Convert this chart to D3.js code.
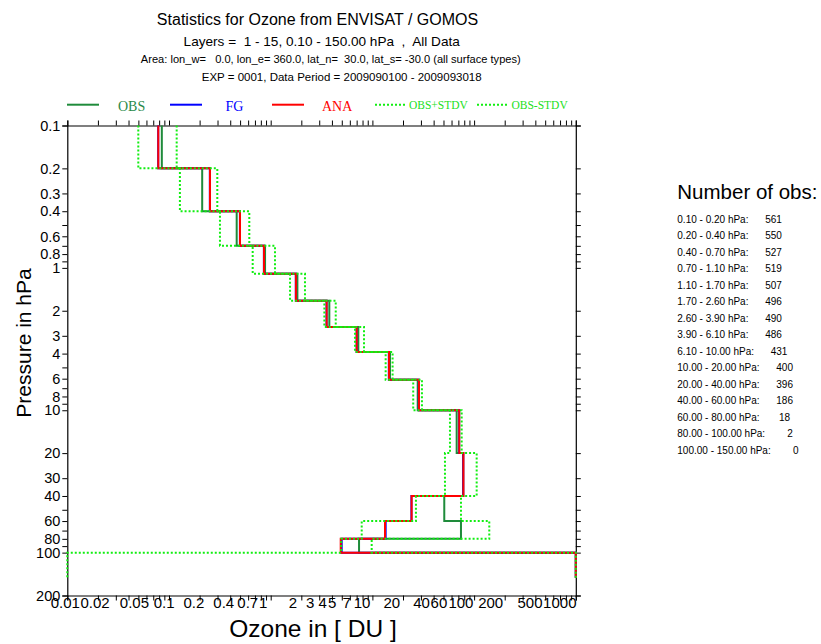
<!DOCTYPE html>
<html>
<head>
<meta charset="utf-8">
<script src="https://cdn.jsdelivr.net/npm/d3@7"></script>
<style>
  body { margin: 0; background: #fff; }
  svg { display: block; }
  text { font-family: "Liberation Sans", Arial, Helvetica, sans-serif; fill: #000; }
</style>
</head>
<body>
<svg id="chart" width="821" height="644"></svg>
<script>
// Layer boundaries (hPa), top of atmosphere first
const layerBounds = [0.1, 0.2, 0.4, 0.7, 1.1, 1.7, 2.6, 3.9, 6.1, 10, 20, 40, 60, 80, 100, 150];

// Mean ozone per layer [DU]; the last layer has no observations (missing flag)
const obsValues    = [0.085, 0.212, 0.463, 0.88, 1.83, 3.77, 7.27, 14.9, 27.9, 67.4, 78.0, 50.9, 74.3, 7.39, 1e20];
const fgValues     = [0.0783, 0.252, 0.498, 0.857, 1.765, 3.54, 7.0, 14.5, 28.6, 71.3, 78.2, 24.2, 13.5, 4.99, 1e20];
const anaValues    = [0.0785, 0.253, 0.499, 0.859, 1.77, 3.55, 7.01, 14.56, 28.7, 71.5, 78.5, 24.3, 13.3, 4.88, 1e20];
const obsPlusStdv  = [0.119, 0.2985, 0.616, 1.102, 2.173, 4.36, 8.27, 15.8, 30.7, 75.5, 106, 74.3, 141, 9.84, 2e20];
const obsMinusStdv = [0.0499, 0.128, 0.317, 0.665, 1.549, 3.37, 6.74, 13.5, 25.2, 57.9, 51.7, 26.8, 7.85, 4.94, 0];

// Number of observations per layer
const obsCounts = [561, 550, 527, 519, 507, 496, 490, 486, 431, 400, 396, 186, 18, 2, 0];

// Labelled tick values
const xTickLabels = [0.01, 0.02, 0.05, 0.1, 0.2, 0.4, 0.7, 1, 2, 3, 4, 5, 7, 10, 20, 40, 60, 100, 200, 500, 1000];
const yTickLabels = [0.1, 0.2, 0.3, 0.4, 0.6, 0.8, 1, 2, 3, 4, 6, 8, 10, 20, 30, 40, 60, 80, 100, 200];

const titleLines = [
  "Statistics for Ozone from ENVISAT / GOMOS",
  "Layers =  1 - 15, 0.10 - 150.00 hPa  ,  All Data",
  "Area: lon_w=   0.0, lon_e= 360.0, lat_n=  30.0, lat_s= -30.0 (all surface types)",
  "EXP = 0001, Data Period = 2009090100 - 2009093018"
];

const svg = d3.select("#chart");
const plot = { left: 67.3, right: 575.8, top: 125.5, bottom: 595.5 };

const x = d3.scaleLog().domain([0.01, 1000]).range([plot.left, plot.right]).clamp(true);
const y = d3.scaleLog().domain([0.1, 200]).range([plot.top, plot.bottom]).clamp(true);
// tick labels sit on a slightly narrower log scale than the ticks themselves
const xLab = d3.scaleLog().domain([0.01, 1000]).range([65.3, 559.8]);

// ---- titles ----
const titleStyle = [
  { size: 16, cx: 317.5, y: 24.5 },
  { size: 13.6, cx: 321.7, y: 46 },
  { size: 11.1, cx: 330.8, y: 63 },
  { size: 11.5, cx: 341.7, y: 80.5 }
];
svg.append("g").selectAll("text").data(titleLines).join("text")
  .attr("x", (d, i) => titleStyle[i].cx)
  .attr("y", (d, i) => titleStyle[i].y)
  .attr("text-anchor", "middle")
  .style("white-space", "pre")
  .attr("font-size", (d, i) => titleStyle[i].size)
  .text(d => d);

// ---- axes (all ticks point outward) ----
const tickLen = 5;
const xTicks = x.ticks();
const yTicks = y.ticks();

const axisG = svg.append("g").attr("class", "axes");
axisG.append("g").attr("transform", `translate(0,${plot.bottom})`)
  .call(d3.axisBottom(x).tickValues(xTicks).tickSize(tickLen).tickFormat(""));
axisG.append("g").attr("transform", `translate(0,${plot.top})`)
  .call(d3.axisTop(x).tickValues(xTicks).tickSize(tickLen).tickFormat(""));
axisG.append("g").attr("transform", `translate(${plot.left},0)`)
  .call(d3.axisLeft(y).tickValues(yTicks).tickSize(tickLen).tickFormat(""));
axisG.append("g").attr("transform", `translate(${plot.right},0)`)
  .call(d3.axisRight(y).tickValues(yTicks).tickSize(tickLen).tickFormat(""));
axisG.selectAll(".domain").attr("stroke", "#000").attr("stroke-width", 1.2);
axisG.selectAll(".tick line").attr("stroke", "#000").attr("stroke-width", 1);

// tick labels
svg.append("g").selectAll("text").data(xTickLabels).join("text")
  .attr("x", d => xLab(d))
  .attr("y", 607.5)
  .attr("text-anchor", "middle")
  .attr("font-size", 15)
  .text(d => String(d));

svg.append("g").selectAll("text").data(yTickLabels).join("text")
  .attr("x", plot.left - 7)
  .attr("y", d => y(d))
  .attr("dy", "0.36em")
  .attr("text-anchor", "end")
  .attr("font-size", 14.5)
  .text(d => String(d));

// axis titles
svg.append("text")
  .attr("transform", "translate(31,343) rotate(-90)")
  .attr("text-anchor", "middle")
  .attr("font-size", 21)
  .text("Pressure in hPa");
svg.append("text")
  .attr("x", 313).attr("y", 637)
  .attr("text-anchor", "middle")
  .attr("font-size", 24.5)
  .text("Ozone in [ DU ]");

// ---- step profiles ----
const stepPoints = vals => vals.flatMap((v, i) => [[v, layerBounds[i]], [v, layerBounds[i + 1]]]);
const line = d3.line().x(d => x(d[0])).y(d => y(d[1]));

const series = [
  { name: "OBS",      values: obsValues,    color: "#1f8b3b", dash: null,  width: 2,   textColor: "#2a8a4a", font: 14,   leg: [67, 99],   tx: 118 },
  { name: "FG",       values: fgValues,     color: "#0000ff", dash: null,  width: 2,   textColor: "#0000ff", font: 14,   leg: [170, 202], tx: 225.5 },
  { name: "ANA",      values: anaValues,    color: "#ff0000", dash: null,  width: 2,   textColor: "#ff0000", font: 14,   leg: [272, 304], tx: 322 },
  { name: "OBS+STDV", values: obsPlusStdv,  color: "#11ee11", dash: "2,2", width: 2,   textColor: "#22e022", font: 11.5, leg: [375, 405], tx: 409 },
  { name: "OBS-STDV", values: obsMinusStdv, color: "#11ee11", dash: "2,2", width: 2,   textColor: "#22e022", font: 11.5, leg: [477, 507], tx: 511.5 }
];

const lines = svg.append("g").attr("class", "profiles");
series.forEach(s => {
  lines.append("path")
    .datum(stepPoints(s.values))
    .attr("fill", "none")
    .attr("stroke", s.color)
    .attr("stroke-width", s.width)
    .attr("stroke-dasharray", s.dash)
    .attr("d", line);
});

// ---- legend ----
const legend = svg.append("g").attr("class", "legend");
series.forEach(s => {
  legend.append("line")
    .attr("x1", s.leg[0]).attr("x2", s.leg[1])
    .attr("y1", 104.7).attr("y2", 104.7)
    .attr("stroke", s.color).attr("stroke-width", 2)
    .attr("stroke-dasharray", s.dash);
  legend.append("text")
    .attr("x", s.tx).attr("y", s.font > 12 ? 110.5 : 109.3)
    .style("font-family", "'Liberation Serif', 'Times New Roman', serif")
    .style("fill", s.textColor)
    .attr("font-size", s.font)
    .text(s.name);
});

// ---- observation counts panel ----
const fmt = v => v.toFixed(2);
const panel = svg.append("g").attr("class", "counts");
panel.append("text")
  .attr("x", 677.3).attr("y", 198.5)
  .attr("font-size", 20.5)
  .text("Number of obs:");
panel.selectAll("text.row").data(obsCounts).join("text")
  .attr("class", "row")
  .attr("x", 677.3)
  .attr("y", (d, i) => 222.6 + i * 16.5)
  .attr("font-size", 10)
  .style("white-space", "pre")
  .text((d, i) => `${fmt(layerBounds[i])} - ${fmt(layerBounds[i + 1])} hPa:` + String(d).padStart(9));
</script>
</body>
</html>
